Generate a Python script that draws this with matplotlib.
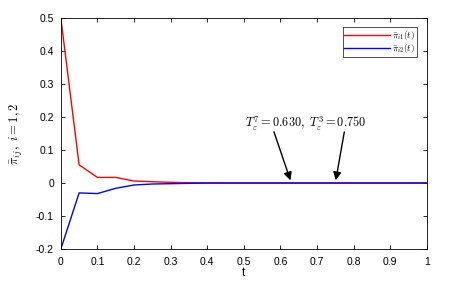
import numpy as np
import matplotlib
matplotlib.use('Agg')
import matplotlib.pyplot as plt

plt.rcParams['font.family'] = ['Liberation Sans', 'DejaVu Sans']
plt.rcParams['mathtext.fontset'] = 'cm'

t = [0, 0.05, 0.1, 0.15, 0.2, 0.25, 0.3, 0.35, 0.4, 0.45, 0.5, 0.55, 0.6, 0.65, 0.7,
     0.75, 0.8, 0.85, 0.9, 0.95, 1.0]
pi_i1 = [0.5, 0.055, 0.017, 0.017, 0.006, 0.004, 0.002, 0.001, 0.0, 0, 0, 0, 0, 0, 0,
         0, 0, 0, 0, 0, 0]
pi_i2 = [-0.2, -0.030, -0.032, -0.016, -0.006, -0.003, -0.002, -0.001, 0.0, 0, 0, 0, 0, 0, 0,
         0, 0, 0, 0, 0, 0]
T_eps = [0.630, 0.750]

fig = plt.figure(figsize=(4.54, 2.82), dpi=100)
ax = fig.add_axes([0.134, 0.117, 0.806, 0.819])

ax.plot(t, pi_i1, color='red', lw=1.0, label=r'$\bar{\pi}_{i1}(t)$')
ax.plot(t, pi_i2, color='blue', lw=1.0, label=r'$\bar{\pi}_{i2}(t)$')

ax.set_xlim(0, 1)
ax.set_ylim(-0.2, 0.5)
ax.set_xticks(np.arange(0, 1.01, 0.1))
ax.set_xticklabels(['0', '0.1', '0.2', '0.3', '0.4', '0.5', '0.6', '0.7', '0.8', '0.9', '1'])
ax.set_yticks(np.arange(-0.2, 0.51, 0.1))
ax.set_yticklabels(['-0.2', '-0.1', '0', '0.1', '0.2', '0.3', '0.4', '0.5'])
ax.tick_params(axis='both', direction='in', top=True, right=True, labelsize=7.5,
               length=3, width=0.6)
ax.tick_params(axis='x', pad=6)
ax.tick_params(axis='y', pad=5)
for s in ax.spines.values():
    s.set_linewidth(0.6)

ax.set_xlabel('t', fontsize=8.5, labelpad=0)
ax.set_ylabel(r'$\bar{\pi}_{ij},\ i=1,2$', fontsize=9, labelpad=8)

ax.text(0.503, 0.179, r'$T_\varepsilon^7=0.630,\ T_\varepsilon^3=0.750$', fontsize=8.8, va='center')
ax.annotate('', xy=(T_eps[0], 0), xytext=(0.58, 0.163),
            arrowprops=dict(arrowstyle='-|>', color='black', lw=1.0, mutation_scale=12))
ax.annotate('', xy=(T_eps[1], 0), xytext=(0.776, 0.163),
            arrowprops=dict(arrowstyle='-|>', color='black', lw=1.0, mutation_scale=12))

leg = ax.legend(loc='upper right', fontsize=6.5, frameon=True, fancybox=False,
                edgecolor='black', handlelength=5.0, borderpad=0.2, labelspacing=0.0,
                handletextpad=0.3, borderaxespad=0, bbox_to_anchor=(0.973, 0.96))
leg.get_frame().set_linewidth(0.6)

fig.savefig('out.png', dpi=100)
